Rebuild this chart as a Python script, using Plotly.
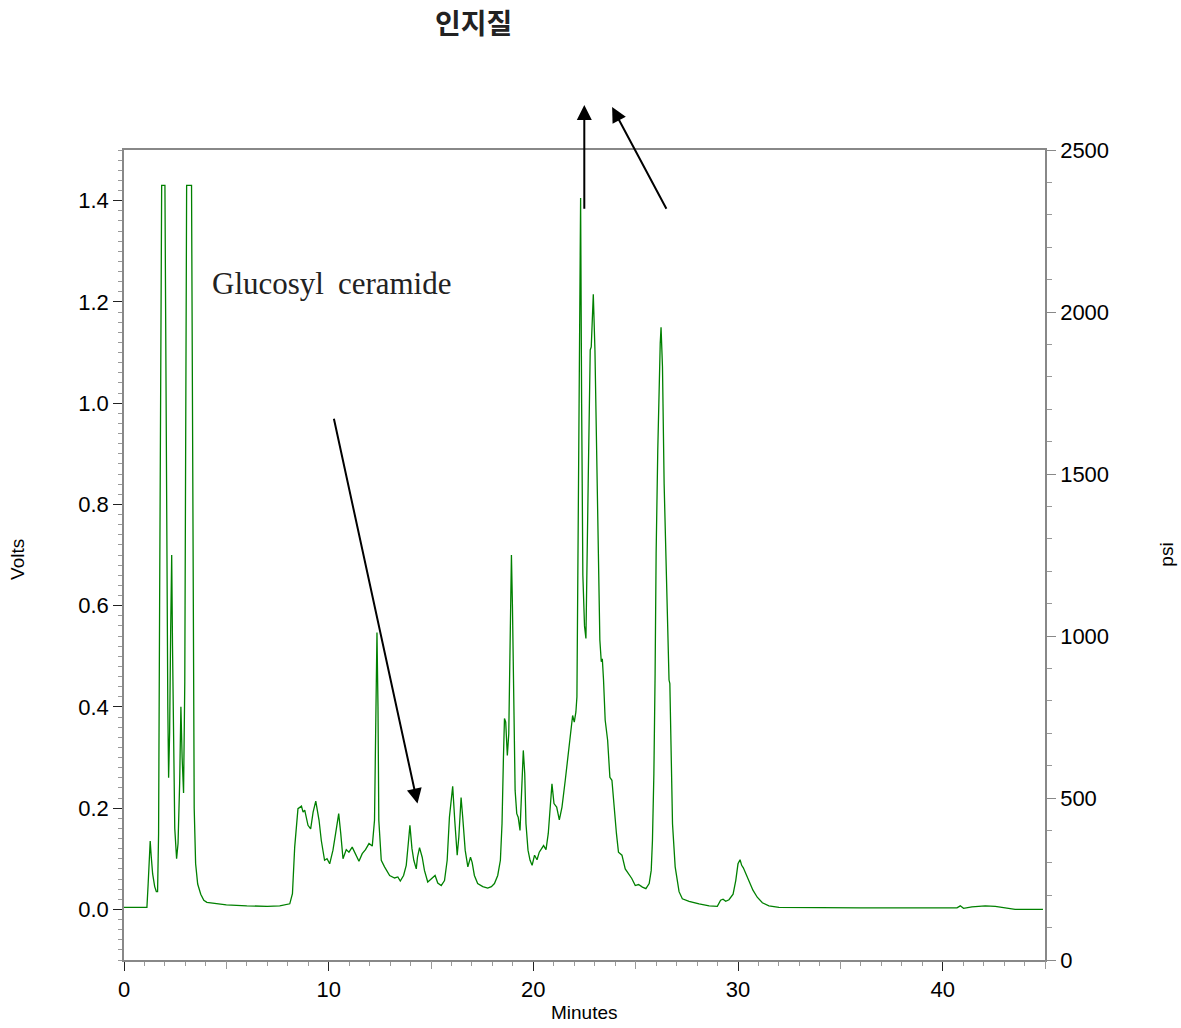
import plotly.graph_objects as go

# ---- data ----
time_min = [
    0.0, 1.12, 1.18, 1.24, 1.28, 1.33, 1.40, 1.50, 1.58, 1.64,
    1.69, 1.74, 1.80, 1.84, 2.00, 2.04, 2.09, 2.14, 2.18, 2.23,
    2.28, 2.33, 2.37, 2.42, 2.48, 2.57, 2.64, 2.72, 2.78, 2.84,
    2.91, 2.97, 3.02, 3.06, 3.30, 3.34, 3.38, 3.43, 3.50, 3.60,
    3.75, 3.90, 4.05, 5.0, 6.0, 6.5, 7.0, 7.61, 8.10, 8.23,
    8.34, 8.50, 8.67, 8.75, 8.83, 8.99, 9.12, 9.24, 9.37, 9.53,
    9.64, 9.80, 9.92, 10.05, 10.21, 10.34, 10.49, 10.59, 10.70, 10.86,
    10.99, 11.15, 11.32, 11.48, 11.64, 11.80, 11.97, 12.13, 12.24, 12.30,
    12.36, 12.41, 12.45, 12.57, 12.73, 12.98, 13.22, 13.38, 13.50, 13.66,
    13.79, 13.89, 13.97, 14.07, 14.16, 14.28, 14.34, 14.44, 14.57, 14.68,
    14.84, 14.98, 15.09, 15.20, 15.33, 15.50, 15.66, 15.79, 15.90, 15.98,
    16.06, 16.16, 16.28, 16.36, 16.47, 16.55, 16.67, 16.80, 16.93, 17.01,
    17.12, 17.28, 17.53, 17.77, 17.95, 18.10, 18.26, 18.39, 18.47, 18.54,
    18.59, 18.65, 18.73, 18.80, 18.86, 18.93, 18.98, 19.04, 19.11, 19.19,
    19.26, 19.35, 19.41, 19.51, 19.58, 19.64, 19.74, 19.84, 19.94, 20.06,
    20.18, 20.29, 20.50, 20.62, 20.73, 20.83, 20.91, 21.01, 21.14, 21.27,
    21.40, 21.56, 21.72, 21.84, 21.92, 22.00, 22.08, 22.13, 22.20, 22.26,
    22.31, 22.36, 22.42, 22.50, 22.57, 22.68, 22.78, 22.83, 22.89, 22.93,
    23.01, 23.09, 23.16, 23.25, 23.32, 23.37, 23.43, 23.51, 23.63, 23.74,
    23.84, 23.95, 24.06, 24.16, 24.33, 24.49, 24.65, 24.81, 24.98, 25.14,
    25.33, 25.50, 25.66, 25.76, 25.82, 25.89, 25.95, 26.00, 26.08, 26.15,
    26.20, 26.24, 26.31, 26.39, 26.47, 26.55, 26.63, 26.67, 26.72, 26.80,
    26.93, 27.04, 27.12, 27.28, 27.61, 28.10, 28.59, 28.99, 29.15, 29.27,
    29.40, 29.56, 29.76, 29.89, 30.00, 30.10, 30.18, 30.26, 30.37, 30.54,
    30.73, 30.94, 31.19, 31.51, 32.0, 36.0, 40.70, 40.86, 41.02, 41.43,
    42.08, 42.57, 43.06, 43.54, 44.9,
]
volts = [
    0.004, 0.004, 0.05, 0.12, 0.135, 0.105, 0.07, 0.045, 0.035, 0.035,
    0.15, 0.6, 1.2, 1.43, 1.43, 1.1, 0.7, 0.4, 0.26, 0.35,
    0.55, 0.70, 0.52, 0.30, 0.16, 0.10, 0.13, 0.25, 0.40, 0.30,
    0.23, 0.45, 0.95, 1.43, 1.43, 1.0, 0.5, 0.2, 0.09, 0.05,
    0.03, 0.018, 0.014, 0.009, 0.007, 0.0065, 0.006, 0.007, 0.011, 0.031,
    0.123, 0.199, 0.204, 0.192, 0.196, 0.166, 0.159, 0.192, 0.214, 0.176,
    0.136, 0.097, 0.100, 0.090, 0.117, 0.150, 0.189, 0.150, 0.100, 0.118,
    0.113, 0.123, 0.110, 0.095, 0.110, 0.118, 0.130, 0.125, 0.176, 0.40,
    0.547, 0.40, 0.176, 0.097, 0.084, 0.067, 0.062, 0.064, 0.056, 0.067,
    0.087, 0.130, 0.166, 0.120, 0.097, 0.080, 0.103, 0.122, 0.103, 0.077,
    0.054, 0.059, 0.064, 0.067, 0.052, 0.047, 0.057, 0.097, 0.182, 0.215,
    0.243, 0.176, 0.107, 0.143, 0.221, 0.182, 0.117, 0.084, 0.103, 0.093,
    0.067, 0.051, 0.045, 0.042, 0.045, 0.051, 0.067, 0.097, 0.169, 0.301,
    0.377, 0.370, 0.304, 0.347, 0.532, 0.700, 0.597, 0.400, 0.235, 0.189,
    0.182, 0.156, 0.215, 0.314, 0.268, 0.169, 0.117, 0.097, 0.087, 0.107,
    0.098, 0.113, 0.126, 0.118, 0.150, 0.209, 0.248, 0.209, 0.202, 0.177,
    0.202, 0.255, 0.308, 0.354, 0.383, 0.370, 0.390, 0.420, 0.75, 1.15,
    1.405, 1.0, 0.66, 0.56, 0.535, 0.841, 1.105, 1.111, 1.19, 1.215,
    1.105, 0.907, 0.70, 0.532, 0.489, 0.495, 0.453, 0.374, 0.334, 0.261,
    0.255, 0.196, 0.150, 0.113, 0.107, 0.080, 0.071, 0.061, 0.047, 0.049,
    0.044, 0.041, 0.051, 0.077, 0.136, 0.268, 0.466, 0.703, 0.907, 1.065,
    1.118, 1.150, 1.072, 0.841, 0.709, 0.54, 0.453, 0.446, 0.301, 0.169,
    0.084, 0.050, 0.035, 0.021, 0.016, 0.011, 0.007, 0.006, 0.018, 0.020,
    0.016, 0.019, 0.030, 0.057, 0.090, 0.098, 0.087, 0.082, 0.071, 0.057,
    0.038, 0.024, 0.013, 0.007, 0.004, 0.003, 0.003, 0.007, 0.002, 0.005,
    0.007, 0.006, 0.003, 0.0, 0.0,
]

x_major_ticks = [0, 10, 20, 30, 40]
x_mid_ticks = [5, 15, 25, 35, 45]
volt_ticks = [0.0, 0.2, 0.4, 0.6, 0.8, 1.0, 1.2, 1.4]
psi_ticks = [0, 500, 1000, 1500, 2000, 2500]

title_text = "인지질"
label_text = "Glucosyl\u2009 ceramide"

SANS = "Liberation Sans, Arial, sans-serif"
TICK_SIZE = 22

fig = go.Figure()
fig.add_trace(go.Scatter(
    x=time_min, y=volts, mode="lines",
    line=dict(color="#008000", width=1.3),
    showlegend=False, hoverinfo="skip",
))
# empty traces so the secondary (pressure) axis and the 5-minute tick axis are drawn
fig.add_trace(go.Scatter(x=[None], y=[None], yaxis="y2", mode="lines",
                         showlegend=False, hoverinfo="skip"))
fig.add_trace(go.Scatter(x=[None], y=[None], xaxis="x2", mode="lines",
                         showlegend=False, hoverinfo="skip"))

fig.update_layout(
    width=1181, height=1028,
    margin=dict(l=124, r=136, t=150, b=68),
    paper_bgcolor="white", plot_bgcolor="white",
    showlegend=False,
    xaxis=dict(
        range=[0, 45], tickmode="array", tickvals=x_major_ticks,
        ticks="outside", ticklen=9, tickcolor="#222", tickwidth=1,
        showline=True, linecolor="#888", linewidth=1.5, mirror=True,
        showgrid=False, zeroline=False,
        tickfont=dict(family=SANS, size=TICK_SIZE, color="black"),
        minor=dict(dtick=1, tick0=0, ticks="outside", ticklen=4,
                   tickcolor="#999", showgrid=False),
    ),
    xaxis2=dict(
        overlaying="x", anchor="y", side="bottom", range=[0, 45],
        tickmode="array", tickvals=x_mid_ticks, ticks="outside",
        ticklen=8, tickcolor="#999", showticklabels=False,
        showline=False, showgrid=False, zeroline=False,
    ),
    yaxis=dict(
        range=[-0.1, 1.5], tickmode="array", tickvals=volt_ticks,
        ticktext=[f"{v:.1f}" for v in volt_ticks],
        ticks="outside", ticklen=9, tickcolor="#222",
        showline=True, linecolor="#888", linewidth=1.5,
        showgrid=False, zeroline=False,
        tickfont=dict(family=SANS, size=TICK_SIZE, color="black"),
        minor=dict(dtick=0.02, tick0=0, ticks="outside", ticklen=4,
                   tickcolor="#999", showgrid=False),
    ),
    yaxis2=dict(
        overlaying="y", anchor="x", side="right", range=[0, 2500],
        tickmode="array", tickvals=psi_ticks, ticks="outside",
        ticklen=9, tickcolor="#888",
        showline=True, linecolor="#888", linewidth=1.5,
        showgrid=False, zeroline=False,
        tickfont=dict(family=SANS, size=TICK_SIZE, color="black"),
        minor=dict(dtick=100, tick0=0, ticks="outside", ticklen=5,
                   tickcolor="#999", showgrid=False),
    ),
)

annotations = [
    dict(text=f"<b>{title_text}</b>", xref="paper", yref="paper",
         x=0.379, y=1.158, showarrow=False, xanchor="center", yanchor="middle",
         font=dict(family="Noto Sans CJK KR", size=28, color="#222")),
    dict(text="Minutes", xref="paper", yref="paper", x=0.5, y=-0.0654,
         showarrow=False, xanchor="center", yanchor="middle",
         font=dict(family=SANS, size=19, color="black")),
    dict(text="Volts", xref="paper", yref="paper", x=-0.115, y=0.494,
         showarrow=False, textangle=-90, xanchor="center", yanchor="middle",
         font=dict(family=SANS, size=19, color="black")),
    dict(text="psi", xref="paper", yref="paper", x=1.131, y=0.50,
         showarrow=False, textangle=-90, xanchor="center", yanchor="middle",
         font=dict(family=SANS, size=19, color="black")),
    dict(text=label_text, xref="x", yref="y", x=4.19, y=1.237,
         showarrow=False, xanchor="left", yanchor="middle",
         font=dict(family="Liberation Serif, Times New Roman, serif", size=31, color="#222")),
    # arrows
    dict(text="", xref="x", yref="y", axref="x", ayref="y",
         x=14.34, y=0.209, ax=10.24, ay=0.972,
         showarrow=True, arrowhead=2, arrowsize=1.5, arrowwidth=2, arrowcolor="black"),
    dict(text="", xref="x", yref="y", axref="x", ayref="y",
         x=22.49, y=1.589, ax=22.49, ay=1.381,
         showarrow=True, arrowhead=2, arrowsize=1.5, arrowwidth=2, arrowcolor="black"),
    dict(text="", xref="x", yref="y", axref="x", ayref="y",
         x=23.85, y=1.585, ax=26.54, ay=1.381,
         showarrow=True, arrowhead=2, arrowsize=1.5, arrowwidth=2, arrowcolor="black"),
]
fig.update_layout(annotations=annotations)

fig.write_html("out.html")
